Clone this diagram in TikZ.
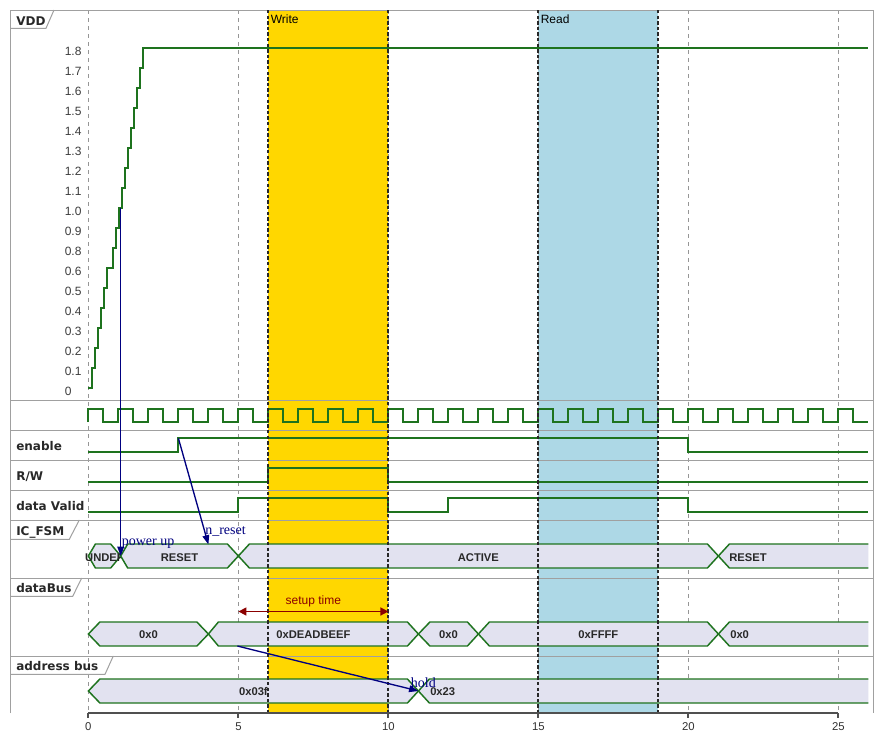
\documentclass[tikz,border=0pt]{standalone}
\usepackage{fontspec}
\setmainfont{Liberation Serif}
\setsansfont{Liberation Sans}
\newfontfamily\rowfont{DejaVu Sans}
\usetikzlibrary{arrows.meta}
\definecolor{sigGreen}{RGB}{30,115,30}
\definecolor{stateFill}{RGB}{226,226,240}
\definecolor{writeGold}{RGB}{255,215,0}
\definecolor{readBlue}{RGB}{173,216,230}
\definecolor{msgNavy}{RGB}{0,0,128}
\definecolor{setupRed}{RGB}{139,0,0}
\definecolor{frameGray}{RGB}{160,160,160}
\definecolor{gridGray}{RGB}{150,150,150}
\definecolor{textDark}{RGB}{40,40,40}
\tikzset{
  sigline/.style={draw=sigGreen, line width=1.5pt, line join=miter},
  statebox/.style={draw=sigGreen, fill=stateFill, line width=1.1pt},
  stateedge/.style={draw=sigGreen, line width=1.1pt},
  gridline/.style={draw=gridGray, line width=0.6pt, dash pattern=on 3pt off 3pt},
  frameline/.style={draw=frameGray, line width=0.75pt},
  hlborder/.style={draw=textDark, line width=1.6pt, dash pattern=on 2.6pt off 1.6pt},
  axisline/.style={draw={rgb,255:red,80;green,80;blue,80}, line width=1.5pt},
  msgarrow/.style={draw=msgNavy, line width=1pt, -{Triangle[length=7pt,width=5pt]}},
  setuparrow/.style={draw=setupRed, line width=1.1pt, {Triangle[length=6pt,width=6pt]}-{Triangle[length=6pt,width=6pt]}},
  rowlabel/.style={inner sep=0pt, text=textDark, font=\rowfont\bfseries\fontsize{9}{10}\selectfont},
  statelabel/.style={inner sep=0pt, text=textDark, font=\sffamily\bfseries\fontsize{8.4}{10}\selectfont},
  vddlabel/.style={inner sep=0pt, text={rgb,255:red,60;green,60;blue,60}, font=\sffamily\fontsize{9}{10}\selectfont},
  ticklabel/.style={inner sep=0pt, text={rgb,255:red,50;green,50;blue,50}, font=\sffamily\fontsize{8.5}{10}\selectfont},
  hllabel/.style={inner sep=0pt, text=black, font=\sffamily\fontsize{9}{10}\selectfont},
  msglabel/.style={inner sep=0pt, text=msgNavy, font=\rmfamily\fontsize{10.5}{12}\selectfont},
  setuplabel/.style={inner sep=0pt, text=setupRed, font=\sffamily\fontsize{9}{10}\selectfont}
}
% state box: x1, x2, centre y, left bevel, right bevel
\newcommand{\hexstate}[5]{%
  \filldraw[statebox] (#1,#3) -- ({#1+#4},{#3-12}) -- ({#2-#5},{#3-12}) -- (#2,#3)
    -- ({#2-#5},{#3+12}) -- ({#1+#4},{#3+12}) -- cycle;}
% last state, open to the right end
\newcommand{\openstate}[2]{%
  \fill[stateFill] (#1,#2) -- ({#1+11},{#2-12}) -- (868.4,{#2-12}) -- (868.4,{#2+12}) -- ({#1+11},{#2+12}) -- cycle;
  \draw[stateedge] (868.4,{#2-12}) -- ({#1+11},{#2-12}) -- (#1,#2) -- ({#1+11},{#2+12}) -- (868.4,{#2+12});}
\begin{document}
\begin{tikzpicture}[x=0.75pt,y=0.75pt,yscale=-1,xscale=1]
\useasboundingbox (0,0) rectangle (889,743);
\fill[white] (0,0) rectangle (889,743);
% highlighted periods
\fill[writeGold] (268.4,10) rectangle (388.4,713);
\fill[readBlue] (538.4,10) rectangle (658.4,713);
% time grid
\foreach \t in {0,5,...,25}
  \draw[gridline] ({88.4+30*\t},10) -- ({88.4+30*\t},713);
% frame and rows
\draw[frameline] (10,713) -- (10,10) -- (873,10) -- (873,713);
\foreach \y in {400,430,460,490,520,578,656}
  \draw[frameline] (10,\y) -- (873,\y);
\draw[frameline] (10,28.3) -- (46,28.3) -- (54,10);
\draw[frameline] (10,539.3) -- (69.3,539.3) -- (79.3,520);
\draw[frameline] (10,596.3) -- (72.7,596.3) -- (81.7,578);
\draw[frameline] (10,674.3) -- (105,674.3) -- (113.3,656);
% row labels
\node[rowlabel, anchor=base west] (vddname) at (16,25) {VDD};
\node[rowlabel, anchor=base west] (enname) at (16,450.5) {enable};
\node[rowlabel, anchor=base west] (rwname) at (16,480.5) {R/W};
\node[rowlabel, anchor=base west] (dvname) at (16,510.5) {data Valid};
\node[rowlabel, anchor=base west] (fsmname) at (16,535) {IC\_FSM};
\node[rowlabel, anchor=base west] (busname) at (16,592.7) {dataBus};
\node[rowlabel, anchor=base west] (addrname) at (16,670.3) {address bus};
% VDD scale
\foreach \v/\i in {0/0,0.1/1,0.2/2,0.3/3,0.4/4,0.5/5,0.6/6,0.8/7,0.9/8,1.0/9,1.1/10,1.2/11,1.3/12,1.4/13,1.5/14,1.6/15,1.7/16,1.8/17}
  \node[vddlabel, anchor=base west] (vdd\i) at (64.5,{388-20*\i+7.3}) {\v};
% VDD ramp
\draw[sigline] (88.4,388) foreach \v/\i in {0.1/1,0.2/2,0.3/3,0.4/4,0.5/5,0.6/6,0.8/7,0.9/8,1.0/9,1.1/10,1.2/11,1.3/12,1.4/13,1.5/14,1.6/15,1.7/16,1.8/17} { -| ({88.9+30*\v},{388-20*\i}) } -- (868.4,48);
% clock
\draw[sigline] (88.4,422) foreach \k in {0,...,25} { -- ++(0,-13) -- ++(15,0) -- ++(0,13) -- ++(15,0) };
% enable, R/W, data Valid
\draw[sigline] (88.4,452.3) -| (178.4,438.3) -| (688.4,452.3) -- (868.4,452.3);
\draw[sigline] (88.4,482.3) -| (268.4,468.3) -| (388.4,482.3) -- (868.4,482.3);
\draw[sigline] (88.4,511.7) -| (238.4,498.3) -| (388.4,511.7) -| (448.4,498.3) -| (688.4,511.7) -- (868.4,511.7);
% IC_FSM states
\hexstate{88.4}{120.7}{556}{7}{10}
\node[statelabel, anchor=base] (undef) at (104.5,561) {UNDEF};
\hexstate{120.7}{238.4}{556}{7}{11}
\node[statelabel, anchor=base] (reset) at (179.5,561) {RESET};
\hexstate{238.4}{718.4}{556}{11}{11}
\node[statelabel, anchor=base] (active) at (478.4,561) {ACTIVE};
\openstate{718.4}{556}
\node[statelabel, anchor=base west] (resetend) at (729,561) {RESET};
% dataBus states
\hexstate{88.4}{208.4}{634}{11.5}{11.5}
\node[statelabel, anchor=base] (busa) at (148.4,638.5) {0x0};
\hexstate{208.4}{418.4}{634}{10}{11}
\node[statelabel, anchor=base] (busb) at (313.4,638.5) {0xDEADBEEF};
\hexstate{418.4}{478.4}{634}{11.5}{11}
\node[statelabel, anchor=base] (busc) at (448.4,638.5) {0x0};
\hexstate{478.4}{718.4}{634}{11}{11}
\node[statelabel, anchor=base] (busd) at (598.4,638.5) {0xFFFF};
\openstate{718.4}{634}
\node[statelabel, anchor=base west] (buse) at (730,638.5) {0x0};
% address bus states
\hexstate{88.4}{418.4}{691}{11.5}{11}
\node[statelabel, anchor=base] (addra) at (253.4,695.5) {0x03f};
\openstate{418.4}{691}
\node[statelabel, anchor=base west] (addrb) at (430,695.5) {0x23};
% highlight borders
\foreach \x in {268.4,388.4,538.4,658.4}
  \draw[hlborder] (\x,10) -- (\x,713);
\node[hllabel, anchor=base west] (writelbl) at (270.5,23) {Write};
\node[hllabel, anchor=base west] (readlbl) at (540.5,23) {Read};
% time axis
\draw[axisline] (88.4,713) -- (838.4,713);
\foreach \t in {0,5,...,25} {
  \draw[axisline] ({88.4+30*\t},713) -- ({88.4+30*\t},718.3);
  \node[ticklabel, anchor=base] (tick\t) at ({88.4+30*\t},730.7) {\t};
}
% messages
\coordinate (vddon) at (120.7,208);
\coordinate (fsmon) at (120.7,556);
\draw[msgarrow] (vddon) -- (fsmon);
\node[msglabel, anchor=base west] (pwrlbl) at (121.5,545.5) {power up};
\coordinate (enrise) at (178.4,438.3);
\coordinate (fsmreset) at (208.4,544.5);
\draw[msgarrow] (enrise) -- (fsmreset);
\node[msglabel, anchor=base west] (nrstlbl) at (205,534) {n\_reset};
\coordinate (busfive) at (237.4,646);
\coordinate (addrhold) at (418.4,691);
\draw[msgarrow] (busfive) -- (addrhold);
\node[msglabel, anchor=base west] (holdlbl) at (410.7,687.3) {hold};
% setup time
\coordinate (setupa) at (238.4,611.5);
\coordinate (setupb) at (388.4,611.5);
\draw[setuparrow] (setupa) -- (setupb);
\node[setuplabel, anchor=base] (setuplbl) at (313.4,604) {setup time};
\end{tikzpicture}
\end{document}
